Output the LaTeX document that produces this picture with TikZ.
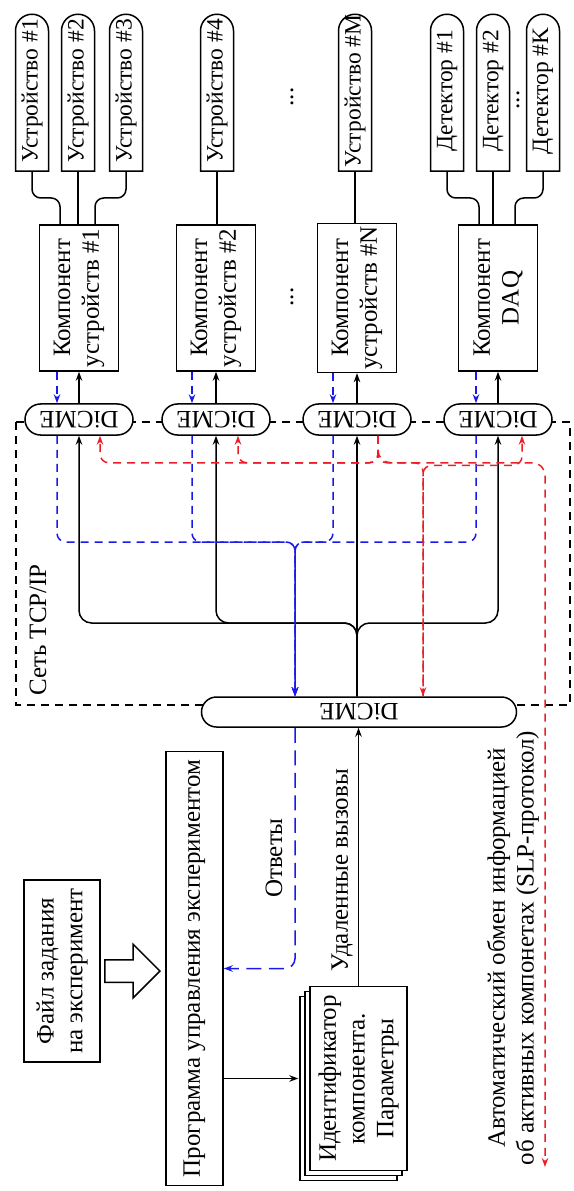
\documentclass[tikz,border=0pt]{standalone}
\usepackage{fontspec}
\setmainfont{Liberation Serif}
\usetikzlibrary{shapes.misc, shapes.arrows, arrows.meta, calc, shadows}

\definecolor{respblue}{RGB}{25,25,235}
\definecolor{slpred}{RGB}{235,30,40}

% fixed text length inside the device boxes
\newcommand{\devlabel}[1]{\makebox[55pt]{\hspace{3pt}\fontsize{9.4}{11}\selectfont #1}}

\begin{document}
\begin{tikzpicture}[
  x=0.4pt, y=0.4pt,
  font=\fontsize{10}{11.5}\selectfont,
  line width=0.6pt,
  devbox/.style={rounded rectangle, rounded rectangle west arc=none, draw, fill=white,
                 rotate=90, anchor=west, minimum width=64.8pt, minimum height=13.2pt,
                 inner sep=1pt},
  compbox/.style={rectangle, draw, fill=white, rotate=90, align=center,
                  minimum width=58.4pt, minimum height=31.6pt, inner sep=1pt},
  dicme/.style={rounded rectangle, draw, fill=white, rotate=180,
                minimum width=45.2pt, minimum height=12.4pt, inner sep=1pt},
  txtbox/.style={rectangle, draw, fill=white, rotate=90, align=center},
  lbl/.style={rotate=90, align=center, inner sep=1pt},
  arrow/.style={-{Stealth[length=3.6pt, width=2.6pt]}},
  resp/.style={arrow, respblue, dash pattern=on 3.2pt off 2.4pt},
  slp/.style={arrow, slpred, dash pattern=on 3.2pt off 2.4pt},
  netframe/.style={dash pattern=on 3.2pt off 2.4pt}
]
\useasboundingbox (0,0) rectangle (573,-1191);

% TCP/IP network frame
\draw[netframe] (16,-422) rectangle (570,-705);
\node[lbl] (net) at (38,-630) {Сеть TCP/IP};

% Devices and detectors
\node[devbox] (dev1) at (32,-172)  {\devlabel{Устройство \#1}};
\node[devbox] (dev2) at (78,-172)  {\devlabel{Устройство \#2}};
\node[devbox] (dev3) at (126,-172) {\devlabel{Устройство \#3}};
\node[devbox] (dev4) at (217,-172) {\devlabel{Устройство \#4}};
\node[devbox] (devM) at (355,-172) {\devlabel{Устройство \#M}};
\node[devbox] (det1) at (447,-172) {\devlabel{Детектор \#1}};
\node[devbox] (det2) at (493,-172) {\devlabel{Детектор \#2}};
\node[devbox] (detK) at (543,-172) {\devlabel{Детектор \#K}};
\node[lbl] (dotsA) at (292,-97)  {...};
\node[lbl] (dotsB) at (518,-100) {...};

% Components
\node[compbox] (comp1) at (79,-298)  {Компонент\\устройств \#1};
\node[compbox] (comp2) at (216,-298) {Компонент\\устройств \#2};
\node[compbox] (compN) at (357,-298) {Компонент\\устройств \#N};
\node[compbox] (compD) at (498,-298) {Компонент\\DAQ};
\node[lbl] (dotsC) at (292,-297) {...};

% DiCME nodes
\node[dicme] (dm1) at (79,-419.5)  {DiCME};
\node[dicme] (dm2) at (216,-419.5) {DiCME};
\node[dicme] (dm3) at (357,-419.5) {DiCME};
\node[dicme] (dm4) at (498,-419.5) {DiCME};
\node[dicme, minimum width=128pt, minimum height=12pt] (dmbig) at (359,-712) {DiCME};

% Devices to components
\draw[rounded corners=3.5pt] (dev1.west) -- ++(0,-26) -| ($(comp1.east)+(-19,0)$);
\draw (dev2.west) -- (dev2.west |- comp1.east);
\draw[rounded corners=3.5pt] (dev3.west) -- ++(0,-26) -| ($(comp1.east)+(16,0)$);
\draw (dev4.west) -- (dev4.west |- comp2.east);
\draw (devM.west) -- (devM.west |- compN.east);
\draw[rounded corners=3.5pt] (det1.west) -- ++(0,-26) -| ($(compD.east)+(-19,0)$);
\draw (det2.west) -- (det2.west |- compD.east);
\draw[rounded corners=3.5pt] (detK.west) -- ++(0,-26) -| ($(compD.east)+(17,0)$);

% Components <-> DiCME
\draw[arrow] (dm1.south) -- (comp1.west);
\draw[arrow] (dm2.south) -- (comp2.west);
\draw[arrow] (dm3.south) -- (compN.west);
\draw[arrow] (dm4.south) -- (compD.west);
\draw[resp] ($(comp1.west)+(-22,0)$) -- ($(dm1.south)+(-22,0)$);
\draw[resp] ($(comp2.west)+(-24,0)$) -- ($(dm2.south)+(-24,0)$);
\draw[resp] ($(compN.west)+(-24,0)$) -- ($(dm3.south)+(-24,0)$);
\draw[resp] ($(compD.west)+(-22,0)$) -- ($(dm4.south)+(-22,0)$);

% Remote calls through the network
\coordinate (split) at (357,-623);
\draw[arrow, rounded corners=5pt] (dmbig.south -| dm3.north) |- (split -| dm1.north) -- (dm1.north);
\draw[arrow, rounded corners=5pt] (dmbig.south -| dm3.north) |- (split -| dm2.north) -- (dm2.north);
\draw[arrow] (dmbig.south -| dm3.north) -- (dm3.north);
\draw[arrow, rounded corners=5pt] (dmbig.south -| dm3.north) |- (split -| dm4.north) -- (dm4.north);

% Responses back to the program
\coordinate (bus) at (295,-542);
\draw[resp, rounded corners=3.5pt] ($(dm1.north)+(-22,0)$) |- (bus) -- (bus |- dmbig.south);
\draw[resp, rounded corners=3.5pt] ($(dm2.north)+(-24,0)$) |- (bus) -- (bus |- dmbig.south);
\draw[resp, rounded corners=3.5pt] ($(dm3.north)+(-24,0)$) |- (bus) -- (bus |- dmbig.south);
\draw[resp, rounded corners=3.5pt] ($(dm4.north)+(-22,0)$) |- (bus) -- (bus |- dmbig.south);

% SLP exchange
\coordinate (src) at ($(dm3.north)+(21,0)$);
\coordinate (slpout) at (545,-1167);
\draw[slp, rounded corners=3.5pt] (src) -- ++(0,-27) -| ($(dm1.north)+(21,0)$);
\draw[slp, rounded corners=3.5pt] (src) -- ++(0,-27) -| ($(dm2.north)+(22,0)$);
\draw[slp, rounded corners=3.5pt] (src) -- ++(0,-27) -| ($(dmbig.south)+(64,0)$);
\draw[slp, rounded corners=3.5pt] ($(dmbig.south)+(64,0)$) -- ++(0,231) -| ($(dm4.north)+(24,0)$);
\draw[slp, rounded corners=5pt] (src) -- ++(0,-27) -| (slpout);

% Experiment control program
\node[txtbox, minimum width=71.2pt, minimum height=30.4pt] (task) at (62,-971)
  {Файл задания\\на эксперимент};
\node[single arrow, draw, anchor=tip, minimum height=22pt, minimum width=20.8pt,
      single arrow head extend=6.2pt, inner xsep=0pt, inner ysep=4.2pt] (feed) at (161,-971) {};
\node[txtbox, minimum width=172.4pt, minimum height=22.8pt] (prog) at (194.5,-968.5)
  {Программа управления экспериментом};
\node[txtbox, minimum width=69.2pt, minimum height=36.4pt,
      copy shadow={shadow xshift=-4pt, shadow yshift=-4pt},
      copy shadow={shadow xshift=-2pt, shadow yshift=-2pt}] (ident) at (358.5,-1078.5)
  {Идентификатор\\компонента.\\Параметры};

\draw[resp, dash pattern=on 6pt off 3pt, rounded corners=4pt] ($(dmbig.north)+(-64,0)$) |- (prog.south);
\draw[arrow] (ident.east) -- (ident.east |- dmbig.north);
\draw[arrow] (prog.south |- ident.north) -- ($(ident.north)+(-11,0)$);

% Labels
\node[lbl] (lblresp) at (274,-858) {Ответы};
\node[lbl] (lblcall) at (342,-870) {Удаленные вызовы};
\node[lbl] (lblslp) at (513,-948)
  {Автоматический обмен информацией\\об активных компонетах (SLP-протокол)};
\end{tikzpicture}
\end{document}
